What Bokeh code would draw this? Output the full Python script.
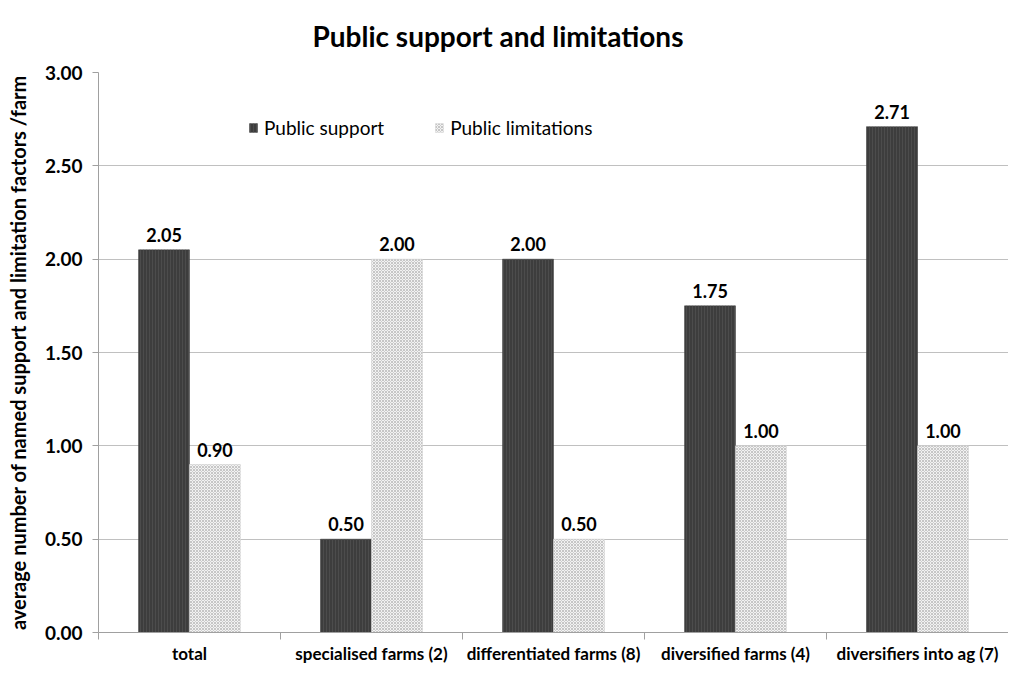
from bokeh.plotting import figure
from bokeh.models import FixedTicker, ColumnDataSource, Legend, LegendItem, Range1d, CustomJSTickFormatter
from bokeh.core.properties import value
from bokeh.embed import file_html
from bokeh.resources import INLINE

title_text = "Public support and limitations"
categories = ["total", "specialised farms (2)", "differentiated farms (8)", "diversified farms (4)", "diversifiers into ag (7)"]
support = [2.05, 0.50, 2.00, 1.75, 2.71]
limitations = [0.90, 2.00, 0.50, 1.00, 1.00]
y_ticks = [0.0, 0.5, 1.0, 1.5, 2.0, 2.5, 3.0]

FONT = "Lato"
n = len(categories)
centers = [i + 0.5 for i in range(n)]
bw = 0.28

p = figure(width=1008, height=666, output_backend="svg", toolbar_location=None,
           x_range=Range1d(0, n), y_range=Range1d(0, 3),
           min_border_left=98, min_border_top=72, min_border_bottom=26, min_border_right=0)

p.title.text = title_text
p.title.align = "left"
p.title.vertical_align = "top"
p.title.text_font = FONT
p.title.text_font_size = "28px"
p.title.text_font_style = "bold"
p.title.text_color = "#000000"
p.title.offset = 214
p.title.standoff = 36

src_s = ColumnDataSource(dict(x=[c - bw / 2 for c in centers], top=support,
                              lab=["%.2f" % v for v in support]))
src_l = ColumnDataSource(dict(x=[c + bw / 2 for c in centers], top=limitations,
                              lab=["%.2f" % v for v in limitations]))

r1 = p.vbar(x="x", top="top", width=bw, bottom=0, source=src_s,
            fill_color="#3d3d3d", line_color="#3d3d3d", line_width=0.5,
            hatch_pattern="|", hatch_color="#555555", hatch_scale=3, hatch_weight=0.6)
r2 = p.vbar(x="x", top="top", width=bw, bottom=0, source=src_l,
            fill_color="#f2f2f2", line_color="#d0d0d0", line_width=0.5,
            hatch_pattern="x", hatch_color="#9a9a9a", hatch_scale=3, hatch_weight=0.5)

for src in (src_s, src_l):
    p.text(x="x", y="top", text="lab", source=src, text_align="center", text_baseline="bottom",
           y_offset=-8, text_font=value(FONT), text_font_style="bold", text_font_size="18px",
           text_color="#000000")

p.xgrid.visible = False
p.ygrid.grid_line_color = "#c0c0c0"
p.ygrid.grid_line_width = 1
p.outline_line_color = None

xa = p.xaxis[0]
xa.ticker = FixedTicker(ticks=centers, minor_ticks=list(range(n + 1)))
xa.major_label_overrides = {c: categories[i] for i, c in enumerate(centers)}
xa.major_tick_out = 0
xa.major_tick_in = 0
xa.minor_tick_out = 7
xa.minor_tick_in = 0
xa.minor_tick_line_color = "#a0a0a0"
xa.axis_line_color = "#a0a0a0"
xa.major_label_text_font = FONT
xa.major_label_text_font_style = "bold"
xa.major_label_text_font_size = "17px"
xa.major_label_text_color = "#000000"
xa.major_label_standoff = 3

ya = p.yaxis[0]
ya.ticker = FixedTicker(ticks=y_ticks, minor_ticks=[])
ya.formatter = CustomJSTickFormatter(code="return tick.toFixed(2);")
ya.major_tick_out = 6
ya.major_tick_in = 0
ya.major_tick_line_color = "#a0a0a0"
ya.axis_line_color = "#a0a0a0"
ya.major_label_text_font = FONT
ya.major_label_text_font_style = "bold"
ya.major_label_text_font_size = "19px"
ya.major_label_text_color = "#000000"
ya.major_label_standoff = 10
ya.axis_label = "average number of named support and limitation factors /farm"
ya.axis_label_text_font = FONT
ya.axis_label_text_font_style = "bold"
ya.axis_label_text_font_size = "20px"
ya.axis_label_text_color = "#000000"
ya.axis_label_standoff = 12

legend = Legend(items=[LegendItem(label="Public support", renderers=[r1]),
                       LegendItem(label="Public limitations", renderers=[r2])],
                orientation="horizontal", location=(150, 493),
                glyph_width=10, glyph_height=11, padding=0, margin=0, spacing=50,
                label_text_font=FONT, label_text_font_size="19px", label_text_color="#000000",
                border_line_color=None, background_fill_alpha=0, label_standoff=6)
p.add_layout(legend, "center")

open("out.html", "w").write(file_html(p, INLINE))
